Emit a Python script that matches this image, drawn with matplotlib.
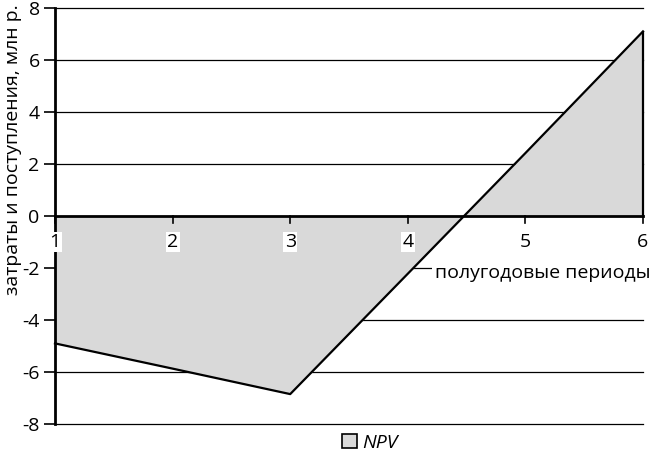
import matplotlib
matplotlib.use("Agg")
import matplotlib.pyplot as plt
from matplotlib.patches import Patch, Rectangle

periods = [1, 2, 3, 4, 5, 6]
npv = [-4.9, -5.87, -6.85, -2.22, 2.42, 7.1]
yticks = [-8, -6, -4, -2, 0, 2, 4, 6, 8]
ylabel = "затраты и поступления, млн р."
xlabel = "полугодовые периоды"
series_name = "NPV"

plt.rcParams['font.family'] = ['Open Sans', 'DejaVu Sans']
FS = 14

W, H = 651, 453
fig = plt.figure(figsize=(W / 100, H / 100), dpi=100)
L, R, T, B = 55, 643, 8, 424
ax = fig.add_axes([L / W, 1 - B / H, (R - L) / W, (B - T) / H])

ax.set_xlim(1, 6)
ax.set_ylim(-8, 8)

for y in yticks:
    if y != 0:
        ax.axhline(y, color='black', lw=0.9, zorder=0, clip_on=False)

ax.fill_between(periods, npv, 0, color='#d9d9d9', zorder=1, lw=0)
ax.plot(periods, npv, color='black', lw=1.6, zorder=3, clip_on=False)
ax.vlines(periods[-1], 0, npv[-1], color='black', lw=1.6, zorder=3, clip_on=False)
ax.axhline(0, color='black', lw=2, zorder=4, clip_on=False)
for p in periods:
    ax.plot([p, p], [0, -0.28], color='black', lw=1.2, zorder=4, clip_on=False)

for s in ['top', 'right', 'bottom']:
    ax.spines[s].set_visible(False)
ax.spines['left'].set_linewidth(2)
ax.spines['left'].set_zorder(5)

ax.set_yticks(yticks)
ax.set_yticklabels([str(v) for v in yticks], fontsize=FS)
ax.tick_params(axis='y', length=8, width=1.2, pad=3)
ax.set_xticks([])

for p in periods:
    ax.text(p, -1.0, str(p), ha='center', va='center', fontsize=FS, zorder=6,
            bbox=dict(facecolor='white', edgecolor='none', pad=1.0))

# white box behind axis title (covers gridline)
fig.patches.append(Rectangle((432 / W, 1 - 286 / H), (W - 432) / W, 26 / H,
                             transform=fig.transFigure, facecolor='white',
                             edgecolor='none', zorder=9))
fig.text(435 / W, 1 - 273 / H, xlabel, ha='left', va='center', fontsize=FS, zorder=10)

fig.text(13 / W, 1 - 150 / H, ylabel, rotation=90, ha='center', va='center', fontsize=FS)

handles = [Patch(facecolor='#d9d9d9', edgecolor='black', lw=1.2, label=series_name)]
leg = fig.legend(handles=handles, loc='center', bbox_to_anchor=(370 / W, 1 - 443 / H),
                 frameon=False, fontsize=FS, handlelength=0.75, handleheight=0.75,
                 handletextpad=0.3, borderpad=0)
for t in leg.get_texts():
    t.set_fontstyle('italic')

fig.savefig("out.png", dpi=100)
